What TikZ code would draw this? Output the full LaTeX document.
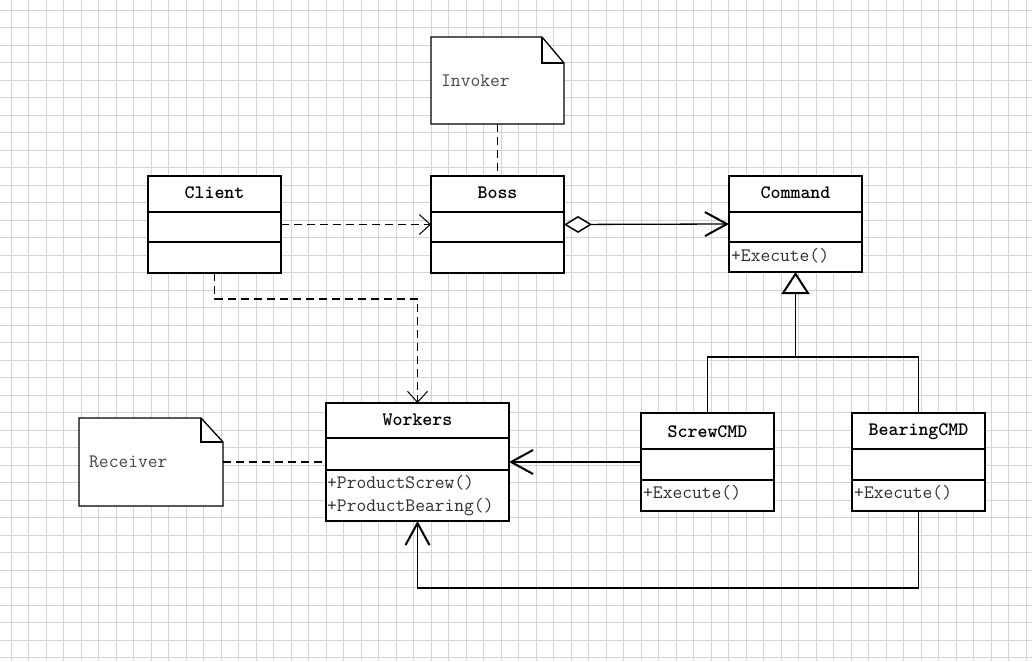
\documentclass[tikz,border=0pt]{standalone}
\usepackage{fontspec}
\usetikzlibrary{arrows.meta}
\definecolor{gridc}{RGB}{212,212,212}
\definecolor{txt}{RGB}{45,45,45}
\definecolor{notetxt}{RGB}{70,70,70}
\tikzset{
  cls/.style={draw=black, line width=2pt, fill=white, inner sep=0pt, outer sep=0pt},
  notebox/.style={inner sep=0pt, outer sep=0pt},
  notepath/.style={draw=black, line width=1.3pt, fill=white, line join=miter},
  divl/.style={line width=2pt},
  ttl/.style={font=\ttfamily\bfseries\fontsize{19}{22}\selectfont, text=black, inner sep=0pt},
  mem/.style={font=\ttfamily\fontsize{19}{24}\selectfont, text=txt, inner sep=0pt, anchor=west},
  ntxt/.style={font=\ttfamily\fontsize{19}{24}\selectfont, text=notetxt, inner sep=0pt, anchor=west},
  conn/.style={line width=1.3pt},
  dsh/.style={line width=1.3pt, dash pattern=on 8pt off 5pt},
  smallopen/.style={-{Straight Barb[length=11pt, width=20pt, line width=1pt]}},
  bigopen/.style={-{Straight Barb[length=22pt, width=24pt, line width=2pt]}},
}
\begin{document}
\begin{tikzpicture}[x=1pt, y=-1pt]
\useasboundingbox (0,0) rectangle (1032,661);
\fill[white] (0,0) rectangle (1032,661);
% grid
\foreach \i in {0,...,58} \draw[gridc, line width=0.9pt] (11+17.5*\i,0) -- (11+17.5*\i,661);
\foreach \j in {0,...,37} \draw[gridc, line width=0.9pt] (0,10+17.5*\j) -- (1032,10+17.5*\j);

% ---------- classes ----------
\node[cls, minimum width=133pt, minimum height=97pt] (client) at (214.5,224.5) {};
\node[cls, minimum width=133pt, minimum height=97pt] (boss) at (497.5,224.5) {};
\node[cls, minimum width=133pt, minimum height=96pt] (command) at (795.5,224) {};
\node[cls, minimum width=183pt, minimum height=118pt] (workers) at (417.5,462) {};
\node[cls, minimum width=133pt, minimum height=98pt] (screw) at (707.5,462) {};
\node[cls, minimum width=133pt, minimum height=98pt] (bearing) at (918.5,462) {};

% dividers
\foreach \n in {client,boss,command}{
  \draw[divl] (\n.west |- 0,212) -- (\n.east |- 0,212);
  \draw[divl] (\n.west |- 0,242) -- (\n.east |- 0,242);
}
\draw[divl] (workers.west |- 0,438) -- (workers.east |- 0,438);
\draw[divl] (workers.west |- 0,470) -- (workers.east |- 0,470);
\foreach \n in {screw,bearing}{
  \draw[divl] (\n.west |- 0,449) -- (\n.east |- 0,449);
  \draw[divl] (\n.west |- 0,480) -- (\n.east |- 0,480);
}

% titles
\node[ttl] (client-t) at (client.north |- 0,193) {Client};
\node[ttl] (boss-t) at (boss.north |- 0,193) {Boss};
\node[ttl] (command-t) at (command.north |- 0,193) {Command};
\node[ttl] (workers-t) at (workers.north |- 0,420) {Workers};
\node[ttl] (screw-t) at (screw.north |- 0,432) {ScrewCMD};
\node[ttl] (bearing-t) at (bearing.north |- 0,432) {BearingCMD};

% members
\node[mem] (command-m) at ([xshift=2pt]command.west |- 0,256) {+Execute()};
\node[mem] (workers-m1) at ([xshift=1pt]workers.west |- 0,483) {+ProductScrew()};
\node[mem] (workers-m2) at ([xshift=1pt]workers.west |- 0,507) {+ProductBearing()};
\node[mem] (screw-m) at ([xshift=2pt]screw.west |- 0,493) {+Execute()};
\node[mem] (bearing-m) at ([xshift=2pt]bearing.west |- 0,493) {+Execute()};

% ---------- notes ----------
\node[notebox, minimum width=133pt, minimum height=87pt] (invoker) at (497.5,80.5) {};
\draw[notepath] (invoker.south west) -- (invoker.north west) -- ([xshift=-22pt]invoker.north east)
  -- ([yshift=-26pt]invoker.north east) -- (invoker.south east) -- cycle;
\draw[line width=1.3pt] ([xshift=-22pt]invoker.north east) -- ([xshift=-22pt, yshift=-26pt]invoker.north east)
  -- ([yshift=-26pt]invoker.north east);
\node[ntxt] (invoker-t) at ([xshift=10pt]invoker.west) {Invoker};

\node[notebox, minimum width=144pt, minimum height=88pt] (receiver) at (151,462) {};
\draw[notepath] (receiver.south west) -- (receiver.north west) -- ([xshift=-22pt]receiver.north east)
  -- ([yshift=-24pt]receiver.north east) -- (receiver.south east) -- cycle;
\draw[line width=1.3pt] ([xshift=-22pt]receiver.north east) -- ([xshift=-22pt, yshift=-24pt]receiver.north east)
  -- ([yshift=-24pt]receiver.north east);
\node[ntxt] (receiver-t) at ([xshift=10pt]receiver.west) {Receiver};

% ---------- connectors ----------
\draw[dsh] (invoker.south) -- (boss.north);
\draw[dsh] (receiver.east) -- (workers.west);
\draw[dsh, smallopen] (client.east) -- (boss.west);
\draw[dsh, smallopen] (client.south) -- ++(0,26) -| (workers.north);
\draw[conn, {Diamond[open, fill=white, length=28pt, width=17pt, line width=1.5pt]}-{Straight Barb[length=22pt, width=24pt, line width=2pt]}]
  (boss.east) -- (command.west);
\draw[conn, bigopen] (screw.west) -- (workers.east);
\draw[conn, bigopen] (bearing.south) -- ++(0,77) -| (workers.south);
\coordinate (junc) at (command.south |- 0,357);
\draw[conn] (screw.north) |- (junc) -| (bearing.north);
\draw[conn, -{Triangle[open, fill=white, length=22pt, width=28pt, line width=2pt]}] (junc) -- (command.south);
\end{tikzpicture}
\end{document}
